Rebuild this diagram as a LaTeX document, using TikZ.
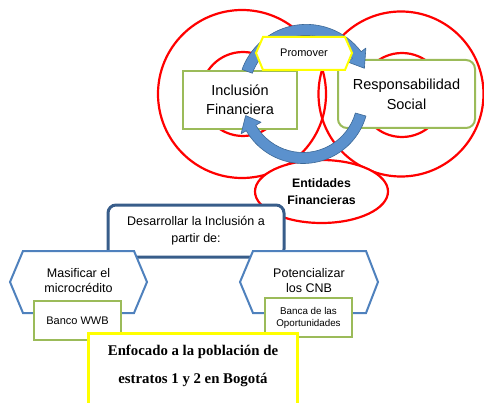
\documentclass[tikz,border=0pt]{standalone}
\usepackage{fontspec}
\setmainfont{Liberation Sans}
\newfontfamily\serifbold{Liberation Serif}
\usetikzlibrary{calc,shapes.geometric}
\definecolor{cred}{RGB}{255,0,0}
\definecolor{cgreen}{RGB}{155,187,89}
\definecolor{chex}{RGB}{79,129,189}
\definecolor{cdark}{RGB}{56,93,138}
\definecolor{cyel}{RGB}{255,255,0}
\definecolor{carrow}{RGB}{91,145,205}
\definecolor{carrowd}{RGB}{60,104,150}
\begin{document}
\begin{tikzpicture}[x=1pt,y=1pt,
  ring/.style={draw=cred,line width=2.2pt},
  gbox/.style={draw=cgreen,line width=2pt,fill=white,inner sep=0pt,align=center},
  hexa/.style={draw=chex,line width=2pt,fill=white},
  lbl/.style={inner sep=0pt,align=center},
  arrowshape/.style={fill=carrow,draw=carrowd,line width=0.6pt,line join=round}
]
\useasboundingbox (0,0) rectangle (484,402);
\clip (0,0) rectangle (484,402);
% red circles
\draw[ring] (242,308) circle[radius=84];
\draw[ring] (401,308) circle[radius=82.5];
\draw[ring] (243,308) circle[radius=42];
\draw[ring] (402,307) circle[radius=42];
% ellipse
\node[ellipse,draw=cred,line width=2.2pt,fill=white,minimum width=133pt,minimum height=63pt,inner sep=0pt,align=center,font=\bfseries\fontsize{12.3}{17}\selectfont] (ent) at (321.5,210.5) {Entidades\\Financieras};
% main boxes
\node[gbox,minimum width=114pt,minimum height=58pt,font=\fontsize{14.5}{19}\selectfont] (incl) at (240,302) {Inclusión\\Financiera};
\node[gbox,rounded corners=9pt,minimum width=137pt,minimum height=68pt,font=\fontsize{14.5}{20}\selectfont] (resp) at (406.5,308) {Responsabilidad\\Social};
% circular arrows
\coordinate (U) at (306.4,309.1);
\coordinate (L) at (303,304);
\path[arrowshape] ($(U)+(160:68.5)$) arc[start angle=160,end angle=37,radius=68.5]
  -- ($(U)+(37:74.5)$) -- ($(U)+(23:63)$) -- ($(U)+(37:51.5)$) -- ($(U)+(37:57.5)$)
  arc[start angle=37,end angle=160,radius=57.5] -- cycle;
\path[arrowshape] ($(L)+(-16:65.5)$) arc[start angle=-16,end angle=-150,radius=65.5]
  -- ($(L)+(-150:71.5)$) -- ($(L)+(-163:60)$) -- ($(L)+(-150:48.5)$) -- ($(L)+(-150:54.5)$)
  arc[start angle=-150,end angle=-16,radius=54.5] -- cycle;
% Promover
\path[draw=cyel,line width=2pt,fill=white] (256,349) -- (263,365) -- (345,365) -- (352,349) -- (345,332) -- (263,332) -- cycle;
\node[lbl,font=\fontsize{11}{13}\selectfont] (prom) at (304,349) {Promover};
% Desarrollar
\node[draw=cdark,line width=3pt,rounded corners=8pt,fill=white,minimum width=176pt,minimum height=52pt,inner sep=0pt,align=center,font=\fontsize{12.5}{17}\selectfont] (des) at (196,171) {Desarrollar la Inclusión a\\partir de:};
% hexagons
\path[hexa] (10,120) -- (23,151) -- (134,151) -- (147,120) -- (134,89) -- (23,89) -- cycle;
\node[lbl,font=\fontsize{12.5}{15}\selectfont] (masi) at (78.5,121.5) {Masificar el\\microcrédito};
\path[hexa] (240,120) -- (253,151) -- (366,151) -- (378,120) -- (366,89) -- (253,89) -- cycle;
\node[lbl,font=\fontsize{12.5}{15}\selectfont] (pot) at (309,121.5) {Potencializar\\los CNB};
% small green boxes
\node[gbox,minimum width=87pt,minimum height=39pt,font=\fontsize{11}{13}\selectfont] (wwb) at (77.5,81.5) {Banco WWB};
\node[gbox,minimum width=87pt,minimum height=39pt,font=\fontsize{9.8}{12}\selectfont] (banca) at (308.5,84.5) {Banca de las\\Oportunidades};
% yellow box
\node[draw=cyel,line width=3pt,fill=white,minimum width=209pt,minimum height=89pt,inner sep=0pt] (enf) at (192.5,24.5) {};
\node[lbl,font=\serifbold\bfseries\fontsize{14.8}{28.5}\selectfont] (enftxt) at (193,36) {Enfocado a la población de\\estratos 1 y 2 en Bogotá};
\end{tikzpicture}
\end{document}
